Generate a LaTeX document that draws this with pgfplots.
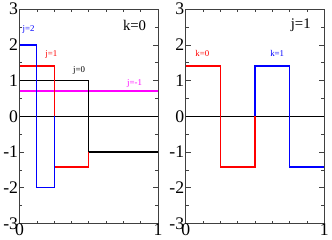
\documentclass[border=0pt]{standalone}
\usepackage{pgfplots}
\pgfplotsset{compat=1.18}
\usepackage{fontspec}
\setmainfont{Liberation Serif}
\definecolor{mag}{RGB}{255,0,255}
\begin{document}
\begin{tikzpicture}
\pgfplotsset{
  haar/.style={
    scale only axis, width=141pt, height=218pt,
    xmin=0, xmax=1, ymin=-3, ymax=3,
    xtick={0,1}, ytick={-3,-2,-1,0,1,2,3},
    minor xtick={0.125,0.25,0.375,0.5,0.625,0.75,0.875},
    minor ytick={-2.5,-1.5,-0.5,0.5,1.5,2.5},
    tick align=inside, xtick pos=both, ytick pos=both,
    major tick length=5pt, minor tick length=3pt,
    axis line style={black!75, line width=0.9pt},
    major tick style={black!75, line width=0.7pt},
    minor tick style={black!75, line width=0.7pt},
    /pgf/number format/assume math mode=true,
    tick label style={font=\fontsize{18}{18}\selectfont},
    yticklabel style={xshift=2pt},
    xticklabel style={yshift=3pt},
    clip=false,
  }
}
\begin{axis}[haar, at={(18pt,17pt)}]
\addplot[draw=black, line width=1.3pt] coordinates {(0,0) (1,0)};
\addplot[draw=mag, line width=1.3pt] coordinates {(0,0.7071) (1,0.7071)};
\addplot[draw=black, line width=1.3pt] coordinates {(0,1) (0.5,1) (0.5,-1) (1,-1)};
\addplot[draw=red, line width=1.3pt] coordinates {(0,1.4142) (0.25,1.4142) (0.25,-1.4142) (0.5,-1.4142) (0.5,-1)};
\addplot[draw=blue, line width=1.3pt] coordinates {(0,2) (0.125,2) (0.125,-2) (0.25,-2) (0.25,0)};
\node[text=blue, font=\fontsize{9}{9}\selectfont] at (axis cs:0.065,2.42) {j=2};
\node[text=red, font=\fontsize{9}{9}\selectfont] at (axis cs:0.23,1.73) {j=1};
\node[text=black, font=\fontsize{9}{9}\selectfont] at (axis cs:0.43,1.28) {j=0};
\node[text=mag, font=\fontsize{9}{9}\selectfont] at (axis cs:0.83,0.92) {j=-1};
\node[text=black, font=\fontsize{15}{15}\selectfont] at (axis cs:0.83,2.55) {k=0};
\end{axis}
\begin{axis}[haar, at={(187pt,17pt)}]
\addplot[draw=black, line width=1.3pt] coordinates {(0,0) (1,0)};
\addplot[draw=red, line width=1.3pt] coordinates {(0,1.4142) (0.25,1.4142) (0.25,-1.4142) (0.5,-1.4142) (0.5,0)};
\addplot[draw=blue, line width=1.3pt] coordinates {(0.5,0) (0.5,1.4142) (0.75,1.4142) (0.75,-1.4142) (1,-1.4142)};
\node[text=red, font=\fontsize{9}{9}\selectfont] at (axis cs:0.12,1.75) {k=0};
\node[text=blue, font=\fontsize{9}{9}\selectfont] at (axis cs:0.66,1.75) {k=1};
\node[text=black, font=\fontsize{15}{15}\selectfont] at (axis cs:0.83,2.55) {j=1};
\end{axis}
\end{tikzpicture}
\end{document}
